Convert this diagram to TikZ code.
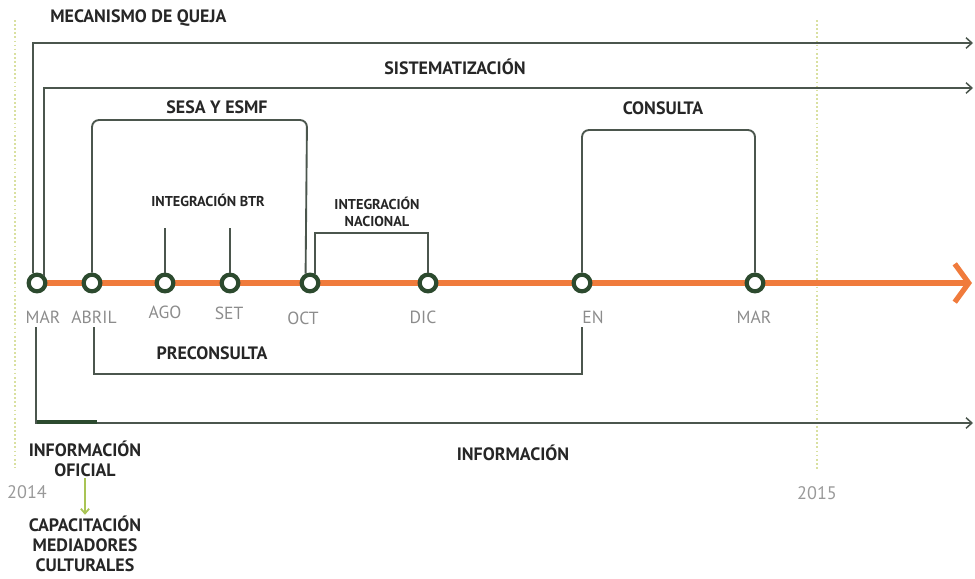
\documentclass[tikz,border=0pt]{standalone}
\usepackage{fontspec}
\setmainfont{PT Sans}
\usetikzlibrary{arrows.meta,positioning}
\definecolor{naranja}{HTML}{F07B3C}
\definecolor{verdeosc}{HTML}{2C4A2E}
\definecolor{linea}{HTML}{4B564D}
\definecolor{verdeclaro}{HTML}{A9C455}
\definecolor{anio}{HTML}{D9E0A0}
\tikzset{
  hito/.style={circle,draw=verdeosc,fill=white,line width=3.6pt,minimum size=0.5cm,inner sep=0pt},
  mes/.style={text=black!45,font=\fontsize{15}{15}\selectfont},
  etiqueta/.style={font=\bfseries\fontsize{15.3}{17}\selectfont,text=black!85,align=center,inner sep=1pt},
  chica/.style={font=\bfseries\fontsize{12.2}{14}\selectfont,text=black!85,align=center},
  tramo/.style={draw=linea,line width=1.6pt},
  flecha/.style={tramo,-{Straight Barb[length=5pt,width=9pt,line width=1.3pt]}},
  aniotxt/.style={text=black!40,font=\fontsize{15.5}{15.5}\selectfont},
}
\begin{document}
\begin{tikzpicture}[x=0.03cm,y=-0.03cm]
  \useasboundingbox (0,0) rectangle (975,578);

  % Years
  \coordinate (a2014-top) at (15,20);
  \coordinate (a2014-bot) at (15,468);
  \coordinate (a2015-top) at (817,20);
  \coordinate (a2015-bot) at (817,470);
  \draw[anio,line width=1.5pt,dotted] (a2014-top) -- (a2014-bot);
  \draw[anio,line width=1.5pt,dotted] (a2015-top) -- (a2015-bot);
  \node[aniotxt] (a2014) at (27,492) {2014};
  \node[aniotxt] (a2015) at (817,493) {2015};

  % Timeline
  \coordinate (inicio) at (28,283);
  \coordinate (fin) at (972,283);
  \draw[naranja,line width=4.5pt,-{Straight Barb[length=0.42cm,width=1.15cm,line width=4.5pt]}] (inicio) -- (fin);

  % Milestones
  \foreach \x/\n in {37/mar,92/abril,165/ago,230/set,310/oct,428/dic,582/en,755/marb}
    \node[hito] (\n) at (\x,283) {};

  % Months
  \node[mes] (lmar) at (43,317) {MAR};
  \node[mes] (labril) at (94,317) {ABRIL};
  \node[mes] (lago) at (165,312) {AGO};
  \node[mes] (lset) at (229,313) {SET};
  \node[mes] (loct) at (303,318) {OCT};
  \node[mes] (ldic) at (423,317) {DIC};
  \node[mes] (len) at (593,317) {EN};
  \node[mes] (lmarb) at (754,317) {MAR};

  % Labels
  \node[etiqueta,anchor=west] (queja) at (49,18) {MECANISMO DE QUEJA};
  \node[etiqueta] (sistem) at (455,67) {SISTEMATIZACIÓN};
  \node[etiqueta] (sesa) at (217,107) {SESA Y ESMF};
  \node[chica] (btr) at (208,200) {INTEGRACIÓN BTR};
  \node[chica] (nacional) at (377,212) {INTEGRACIÓN\\NACIONAL};
  \node[etiqueta] (consulta) at (663,108) {CONSULTA};
  \node[etiqueta] (preconsulta) at (212,353) {PRECONSULTA};
  \node[etiqueta] (oficial) at (85,459) {INFORMACIÓN\\OFICIAL};
  \node[etiqueta] (capac) at (85,544) {CAPACITACIÓN\\MEDIADORES\\CULTURALES};
  \node[etiqueta] (informacion) at (513,453) {INFORMACIÓN};

  % Long processes
  \coordinate (queja-fin) at (973,43);
  \coordinate (sistem-fin) at (973,88);
  \coordinate (info-fin) at (973,423);
  \draw[flecha] (mar.110) |- (queja-fin);
  \draw[flecha] (mar.45) |- (sistem-fin);
  \draw[flecha] ([xshift=-0.2cm]lmar.south) |- (info-fin);
  \draw[verdeosc,line width=4pt] (37,422) -- (97,422);

  % Brackets
  \coordinate (sesa-der) at (307,120);
  \draw[tramo,rounded corners=6pt] (abril.north) |- (sesa-der) -- (oct.115);
  \coordinate (nac-der) at (428,233);
  \draw[tramo] (oct.60) |- (nac-der) -- (dic.north);
  \coordinate (btr-ago) at (165,228);
  \coordinate (btr-set) at (230,228);
  \draw[tramo] (btr-ago) -- (ago.north);
  \draw[tramo] (btr-set) -- (set.north);
  \coordinate (cons-der) at (755,130);
  \draw[tramo,rounded corners=6pt] (en.north) |- (cons-der) -- (marb.north);
  \coordinate (pre-fondo) at (582,374);
  \coordinate (pre-der) at (582,327);
  \draw[tramo] (labril.south) |- (pre-fondo) -- (pre-der);

  % Capacitacion
  \draw[verdeclaro,line width=1.5pt,-{Straight Barb[length=4pt,width=7pt]}] (oficial.south) -- (capac.north);
\end{tikzpicture}
\end{document}
